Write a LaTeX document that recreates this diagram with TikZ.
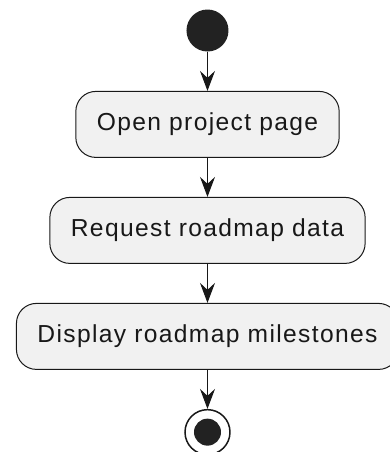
\documentclass[tikz,border=0pt]{standalone}
\usepackage{fontspec}
\setmainfont{Liberation Sans}[LetterSpace=5.5]
\usepackage{tikz}
\usetikzlibrary{arrows.meta,positioning}
\definecolor{umlline}{HTML}{181818}
\definecolor{umlfill}{HTML}{F1F1F1}
\definecolor{umldot}{HTML}{222222}

\begin{document}
\begin{tikzpicture}[node distance=19.5pt, every node/.style={font=\fontsize{12.3pt}{14pt}\selectfont, text=umlline}, startdot/.style={circle, fill=umldot, inner sep=0pt, minimum size=21pt}, enddot/.style={circle, draw=umlline, line width=0.75pt, fill=white, inner sep=0pt, minimum size=22.5pt, path picture={\fill[umldot] (path picture bounding box.center) circle (6.75pt);}}, actbox/.style={draw=umlline, fill=umlfill, line width=0.5pt, rounded corners=10pt, inner xsep=10.5pt, minimum height=33pt}, arr/.style={-{Stealth[length=10pt, width=7.5pt, inset=3.5pt]}, draw=umlline, line width=0.5pt}]
\useasboundingbox (-103.75pt,15.25pt) rectangle (91.25pt,-210.75pt);
\node[startdot] (S) {};
\node[actbox, below=of S] (open) {Open project page};
\node[actbox, below=of open] (req) {Request roadmap data};
\node[actbox, below=of req] (show) {Display roadmap milestones};
\node[enddot, below=of show] (E) {};
\draw[arr] (S) -- (open);
\draw[arr] (open) -- (req);
\draw[arr] (req) -- (show);
\draw[arr] (show) -- (E);
\end{tikzpicture}
\end{document}
